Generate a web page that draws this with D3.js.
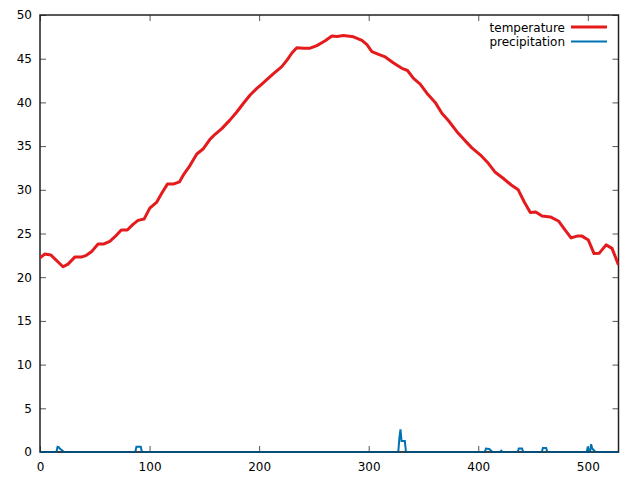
<!DOCTYPE html>
<html><head><meta charset="utf-8">
<script src="https://cdn.jsdelivr.net/npm/d3@7"></script>
<style>body{margin:0;background:#fff}svg{display:block}text{font-family:"DejaVu Sans",sans-serif;font-size:12px;fill:#000}</style>
</head><body>
<svg id="c" width="640" height="480"></svg>
<script>
const tempDay = [0,4.3,9.8,21,25.6,31.7,37.7,42.3,46.9,53,58.4,63.7,68.2,74.2,79.7,84.9,89.5,95,100.2,106.6,111.1,116.3,121.7,127.2,130.9,137,143.1,149.1,155.3,159.8,165.9,173.5,179.6,185.7,191.8,197.9,202.5,207,213.1,220.7,225.8,229.9,234.4,240.2,246.6,252.7,260.3,266.4,271,277,286.1,293.8,298.4,302.9,309,315.1,322.7,330.3,335.4,340.9,347,353.1,360.7,366.8,372.9,380.5,388.1,394.2,401.8,409.4,415.5,422.4,430.1,436.5,442,447.5,452.5,458.2,465.8,473.5,479.5,484.7,490.2,494.7,500.5,505.7,510.5,516.7,522.1,528];
const tempVal = [22.2,22.65,22.55,21.2,21.5,22.3,22.3,22.5,22.9,23.8,23.8,24.1,24.6,25.4,25.4,26.05,26.5,26.65,27.9,28.6,29.6,30.65,30.65,30.9,31.7,32.8,34.1,34.7,35.8,36.35,37.0,38.0,38.9,39.9,40.85,41.6,42.1,42.6,43.3,44.1,44.9,45.65,46.25,46.2,46.2,46.5,47.05,47.6,47.55,47.65,47.5,47.1,46.6,45.8,45.5,45.2,44.5,43.9,43.65,42.75,42.1,41.05,40.0,38.75,37.9,36.65,35.6,34.8,34.0,33.0,32.0,31.35,30.55,30.0,28.6,27.4,27.45,27.0,26.9,26.4,25.35,24.5,24.7,24.7,24.25,22.7,22.75,23.7,23.3,21.4];
const precipDay = [0,15,16,17,18,22,87,88,92,93,327,328,329,330,331,333,334,406,407,410,413,420,421,422,436,437,440,441,458,459,462,463,499,500,501,502,503,504,507,528];
const precipVal = [0,0,0.6,0.55,0.4,0,0,0.6,0.6,0,0,1.6,2.6,1.25,1.25,1.25,0,0,0.4,0.35,0,0,0.15,0,0,0.4,0.4,0,0,0.45,0.45,0,0,0.6,0,0,0.9,0.4,0,0];
const xTicks = [0,100,200,300,400,500];
const yTicks = [0,5,10,15,20,25,30,35,40,45,50];
const seriesNames = ["temperature","precipitation"];
const seriesColors = ["#e41a1c","#0072b2"];

const svg = d3.select("#c");
const L=40, R=618.5, T=15, B=452;
const x = d3.scaleLinear().domain([0,528]).range([L,R]);
const y = d3.scaleLinear().domain([0,50]).range([B,T]);

function styleAxis(g){
  g.select(".domain").remove();
  g.selectAll(".tick line").attr("stroke","#555").attr("stroke-width",1);
  g.selectAll(".tick text").attr("fill","#000").style("font-family","DejaVu Sans, sans-serif").style("font-size","12px");
}
svg.append("g").attr("transform",`translate(0,${B})`)
  .call(d3.axisBottom(x).tickValues(xTicks).tickSize(-6).tickPadding(10)).call(styleAxis);
svg.append("g").attr("transform",`translate(0,${T})`)
  .call(d3.axisTop(x).tickValues(xTicks).tickSize(-6).tickFormat("")).call(styleAxis);
svg.append("g").attr("transform",`translate(${L},0)`)
  .call(d3.axisLeft(y).tickValues(yTicks).tickSize(-6).tickPadding(8)).call(styleAxis);
svg.append("g").attr("transform",`translate(${R},0)`)
  .call(d3.axisRight(y).tickValues(yTicks).tickSize(-6).tickFormat("")).call(styleAxis);

svg.append("clipPath").attr("id","pc").append("rect")
  .attr("x",L).attr("y",T-5).attr("width",R-L).attr("height",B-T+7);

svg.append("rect").attr("x",L).attr("y",T).attr("width",R-L).attr("height",B-T)
  .attr("fill","none").attr("stroke","#222").attr("stroke-width",1.5);

const line = d3.line().x(d=>x(d[0])).y(d=>y(d[1]));
svg.append("path").attr("clip-path","url(#pc)")
  .datum(precipDay.map((d,i)=>[d,precipVal[i]]))
  .attr("d",line).attr("fill","none").attr("stroke",seriesColors[1]).attr("stroke-width",2).attr("stroke-linejoin","miter");
svg.append("path").attr("clip-path","url(#pc)")
  .datum(tempDay.map((d,i)=>[d,tempVal[i]]))
  .attr("d",line).attr("fill","none").attr("stroke",seriesColors[0]).attr("stroke-width",3).attr("stroke-linejoin","round");

// bottom border drawn darker over the baseline, semi-transparent to blend like the reference
svg.append("line").attr("x1",L).attr("x2",R).attr("y1",B).attr("y2",B)
  .attr("stroke","#102030").attr("stroke-opacity",0.6).attr("stroke-width",1.5);

// legend
const lg = svg.append("g");
seriesNames.forEach((n,i)=>{
  const yy = 27 + i*14.5;
  lg.append("text").attr("x",565).attr("y",yy+4.5).attr("text-anchor","end").text(n);
  lg.append("line").attr("x1",571).attr("x2",607).attr("y1",yy).attr("y2",yy)
    .attr("stroke",seriesColors[i]).attr("stroke-width",i===0?3:2);
});
</script>
</body></html>
